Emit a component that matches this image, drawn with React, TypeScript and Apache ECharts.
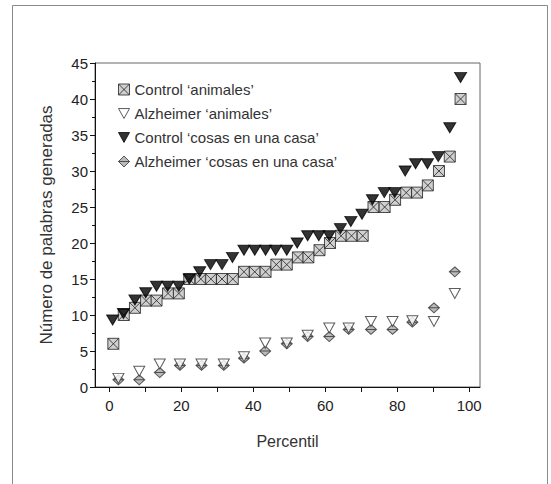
import React, { useEffect, useRef } from "react";
import * as echarts from "echarts";

// Control 'animales' (percentile, words)
const ctrlAnimX = [1.1, 4.0, 7.1, 10.2, 13.1, 16.3, 19.3, 22.2, 25.4, 28.2, 31.3, 34.3, 37.4, 40.4, 43.4, 46.4, 49.3, 52.4, 55.3, 58.4, 61.3, 64.4, 67.3, 70.4, 73.4, 76.5, 79.4, 82.5, 85.5, 88.5, 91.6, 94.6, 97.6];
const ctrlAnimY = [6, 10, 11, 12, 12, 13, 13, 15, 15, 15, 15, 15, 16, 16, 16, 17, 17, 18, 18, 19, 20, 21, 21, 21, 25, 25, 26, 27, 27, 28, 30, 32, 40];

// Control 'cosas en una casa'
const ctrlCasaX = [0.9, 3.9, 7.1, 10.1, 13.1, 16.2, 19.3, 22.2, 25.1, 28.1, 31.3, 34.2, 37.4, 40.4, 43.4, 46.2, 49.3, 52.2, 55.1, 58.2, 61.1, 64.2, 67.1, 70.2, 73.1, 76.4, 79.3, 82.2, 85.1, 88.4, 91.4, 94.6, 97.6];
const ctrlCasaY = [9.3, 10.2, 12.1, 13.1, 14, 14, 14, 15, 16, 17, 17, 18, 19, 19, 19, 19, 19, 20, 21, 21, 21, 22, 23, 24, 26, 27, 27, 30, 31, 31, 32, 36, 43];

// Alzheimer groups
const alzX = [2.5, 8.3, 14.0, 19.6, 25.6, 31.8, 37.4, 43.3, 49.3, 55.1, 61.1, 66.5, 72.7, 78.7, 84.2, 90.2, 96.0];
const alzAnimY = [1.2, 2.2, 3.2, 3.2, 3.2, 3.2, 4.2, 6.1, 6.1, 7.2, 8.2, 8.2, 9.1, 9.1, 9.2, 9.1, 13];
const alzCasaY = [1, 1, 2, 3, 3, 3, 4, 5, 6, 7, 7, 8, 8, 8, 9, 11, 16];

const xLabels = [0, 20, 40, 60, 80, 100];
const xTicks = [0, 10, 20, 30, 40, 50, 60, 70, 80, 90, 100];

const names = [
  "Control ‘animales’",
  "Alzheimer ‘animales’",
  "Control ‘cosas en una casa’",
  "Alzheimer ‘cosas en una casa’",
];

const zip = (xs: number[], ys: number[]) => xs.map((x, i) => [x, ys[i]]);

const SQX = "path://M0 0L10 0L10 10L0 10Z M0 0L10 10 M10 0L0 10";
const TRI = "path://M0 0L10 0L5 9Z";
const DIA = "path://M5 0L10 5L5 10L0 5Z M0 5L10 5";

const FONT = "Liberation Sans";

export default function App() {
  const ref = useRef<HTMLDivElement>(null);
  useEffect(() => {
    const chart = echarts.init(ref.current!, null, { renderer: "svg" });
    chart.setOption({
      animation: false,
      backgroundColor: "#fff",
      textStyle: { fontFamily: FONT },
      graphic: [
        {
          type: "rect",
          shape: { x: 12.5, y: 5.5, width: 535, height: 500 },
          style: { fill: "none", stroke: "#8a8a8a", lineWidth: 1 },
          silent: true,
        },
      ],
      grid: {
        left: 95,
        top: 63,
        right: 71,
        bottom: 97,
        show: true,
        borderColor: "#666",
        borderWidth: 1,
        backgroundColor: "transparent",
      },
      legend: {
        orient: "vertical",
        left: 113,
        top: 77,
        itemWidth: 11,
        itemHeight: 11,
        itemGap: 9,
        itemStyle: { borderWidth: 1 },
        textStyle: { fontSize: 15, color: "#333", fontFamily: FONT },
        data: names,
      },
      xAxis: {
        type: "value",
        min: -4,
        max: 103,
        splitLine: { show: false },
        axisLine: { onZero: false, lineStyle: { color: "#111", width: 1 } },
        axisTick: { customValues: xTicks, length: 5, lineStyle: { color: "#111" } },
        axisLabel: { customValues: xLabels, fontSize: 15, color: "#222", margin: 11, fontFamily: FONT },
        name: "Percentil",
        nameLocation: "middle",
        nameGap: 46,
        nameTextStyle: { fontSize: 16, color: "#333", fontFamily: FONT },
      },
      yAxis: {
        type: "value",
        min: 0,
        max: 45,
        interval: 5,
        splitLine: { show: false },
        axisLine: { show: true, onZero: false, lineStyle: { color: "#111", width: 1 } },
        axisTick: { show: true, length: 5, lineStyle: { color: "#111" } },
        minorTick: { show: true, splitNumber: 2, length: 3, lineStyle: { color: "#111" } },
        axisLabel: { fontSize: 15, color: "#222", margin: 7, fontFamily: FONT },
        name: "Número de palabras generadas",
        nameLocation: "middle",
        nameGap: 40,
        nameTextStyle: { fontSize: 17, color: "#333", fontFamily: FONT },
      },
      series: [
        {
          name: names[3],
          type: "scatter",
          symbol: DIA,
          symbolSize: [11, 10],
          itemStyle: { color: "#a9a9a9", borderColor: "#333", borderWidth: 1 },
          data: zip(alzX, alzCasaY),
          z: 2,
        },
        {
          name: names[1],
          type: "scatter",
          symbol: TRI,
          symbolSize: [11, 10],
          itemStyle: { color: "#fff", borderColor: "#333", borderWidth: 1 },
          data: zip(alzX, alzAnimY),
          z: 3,
        },
        {
          name: names[0],
          type: "scatter",
          symbol: SQX,
          symbolSize: 11,
          itemStyle: { color: "#c4c4c4", borderColor: "#222", borderWidth: 1 },
          data: zip(ctrlAnimX, ctrlAnimY),
          z: 4,
        },
        {
          name: names[2],
          type: "scatter",
          symbol: TRI,
          symbolSize: [12, 10],
          itemStyle: { color: "#000", borderColor: "#000", borderWidth: 1 },
          data: zip(ctrlCasaX, ctrlCasaY),
          z: 5,
        },
      ],
    });
    return () => chart.dispose();
  }, []);
  return (
    <div
      ref={ref}
      style={{ position: "fixed", left: 0, top: 0, width: 551, height: 484 }}
    />
  );
}
